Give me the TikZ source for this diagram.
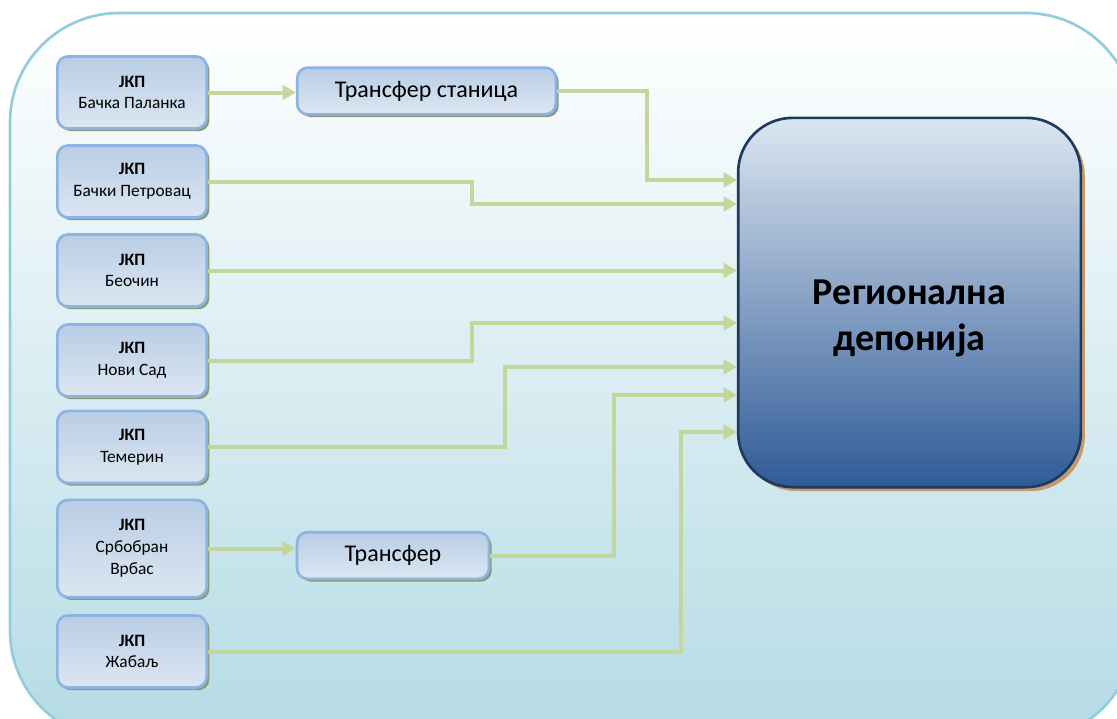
\documentclass[tikz,border=0pt]{standalone}
\usepackage{fontspec}
\setmainfont{Carlito}
\usetikzlibrary{arrows.meta, positioning, shadows}

\definecolor{frameline}{HTML}{92CDDC}
\definecolor{framebot}{HTML}{B4DBE5}
\definecolor{boxline}{HTML}{8DB3E2}
\definecolor{boxtop}{HTML}{B9CDE5}
\definecolor{boxbot}{HTML}{DCE6F2}
\definecolor{boxshade}{HTML}{8A9A72}
\definecolor{flowgreen}{HTML}{C3D69B}
\definecolor{deptop}{HTML}{DCE6F2}
\definecolor{depmid}{HTML}{A3B1CB}
\definecolor{depbot}{HTML}{2F5B96}
\definecolor{depline}{HTML}{1F3A60}
\definecolor{depshade}{HTML}{C49A6C}

\begin{document}
\begin{tikzpicture}[x=0.75pt, y=-0.75pt,
    jkp/.style={draw=boxline, line width=2pt, rounded corners=8pt, top color=boxtop, bottom color=boxbot, minimum width=112pt, minimum height=54pt, align=center, font=\fontsize{13}{16.3}\selectfont, drop shadow={shadow xshift=2pt, shadow yshift=-2pt, fill=boxshade, opacity=1}},
    transfer/.style={jkp, font=\fontsize{18}{21}\selectfont, minimum height=35pt},
    depot/.style={draw=depline, line width=2pt, rounded corners=41pt, top color=deptop, middle color=depmid, bottom color=depbot, minimum width=257pt, minimum height=277pt, drop shadow={shadow xshift=3pt, shadow yshift=-3pt, fill=depshade, opacity=1}},
    flow/.style={draw=flowgreen, line width=3pt, -{Triangle[length=10pt,width=11pt]}}]
    \useasboundingbox (0,0) rectangle (1117,718);
    % background frame, cut off at the right and the bottom
    \begin{scope}
        \clip (0,0) rectangle (1117,718);
        \path[draw=frameline, line width=2pt, top color=white, bottom color=framebot, rounded corners=82pt] (10,13) rectangle (1135,740);
    \end{scope}

    \node[jkp] (palanka) at (132,92.5) {\textbf{ЈКП}\\Бачка Паланка};
    \node[jkp] (petrovac) at (132,181.5) {\textbf{ЈКП}\\Бачки Петровац};
    \node[jkp] (beocin) at (132,270.5) {\textbf{ЈКП}\\Беочин};
    \node[jkp] (novisad) at (132,360.5) {\textbf{ЈКП}\\Нови Сад};
    \node[jkp] (temerin) at (132,447) {\textbf{ЈКП}\\Темерин};
    \node[jkp, minimum height=73pt] (srbobran) at (132,548.5) {\textbf{ЈКП}\\Србобран\\Врбас};
    \node[jkp] (zabalj) at (132,651.5) {\textbf{ЈКП}\\Жабаљ};

    \node[transfer, minimum width=194pt] (stanica) at (426.5,91) {Трансфер станица};
    \node[transfer, minimum width=144pt] (pretovar) at (393,555.5) {Трансфер};

    \node[depot, label={[yshift=-12pt, align=center, font=\fontsize{28.5}{34}\selectfont\bfseries]center:Регионална\\депонија}] (depo) at (909.5,302.5) {};

    % entry points on the left side of the landfill
    \path (depo.west) ++(0,-122.5) coordinate (in1);
    \path (depo.west) ++(0,-98.5) coordinate (in2);
    \coordinate (in3) at (depo.west |- beocin.east);
    \path (depo.west) ++(0,20.5) coordinate (in4);
    \path (depo.west) ++(0,64.5) coordinate (in5);
    \path (depo.west) ++(0,92.5) coordinate (in6);
    \path (depo.west) ++(0,129.5) coordinate (in7);

    \draw[flow] (palanka.east) -- (stanica.west |- palanka.east);
    \draw[flow] (stanica.east) -| (647,180) -- (in1);
    \draw[flow] (petrovac.east) -| (472,204) -- (in2);
    \draw[flow] (beocin.east) -- (in3);
    \draw[flow] (novisad.east) -| (472,323) -- (in4);
    \draw[flow] (temerin.east) -| (505,367) -- (in5);
    \draw[flow] (pretovar.east) -| (614,395) -- (in6);
    \draw[flow] (srbobran.east) -- (pretovar.west |- srbobran.east);
    \draw[flow] (zabalj.east) -| (681,432) -- (in7);
\end{tikzpicture}
\end{document}
